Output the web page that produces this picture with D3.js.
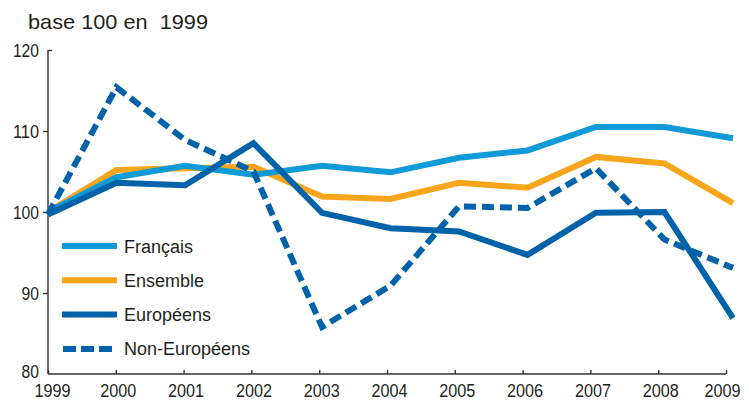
<!DOCTYPE html>
<html><head><meta charset="utf-8">
<script src="https://cdn.jsdelivr.net/npm/d3@7"></script>
<style>
html,body{margin:0;padding:0;background:#fff;}
svg{display:block;font-family:"Liberation Sans",Arial,Helvetica,sans-serif;}
</style></head>
<body>
<script>
const years = [1999,2000,2001,2002,2003,2004,2005,2006,2007,2008,2009];
const francais    = [100,104.3,105.7,104.6,105.7,104.9,106.7,107.6,110.5,110.5,109.1];
const ensemble    = [100,105.2,105.4,105.6,101.9,101.6,103.6,103.0,106.8,106.0,101.1];
const europeens   = [99.7,103.6,103.3,108.5,99.9,98.0,97.6,94.7,99.9,100.0,86.9];
const nonEuropeens= [99.7,115.4,108.9,105.0,85.8,90.9,100.7,100.5,105.4,96.6,93.1];
const yTicks = [80,90,100,110,120];
const title = "base 100 en  1999";
const seriesNames = ["Français","Ensemble","Européens","Non-Européens"];

const W=749,H=402;
const svg=d3.select("body").append("svg").attr("width",W).attr("height",H);
const textColor="#231f20", axisColor="#333";

const y=d3.scaleLinear().domain([80,120]).range([374,50]);
const xAxisScale=d3.scaleLinear().domain([1999,2009]).range([48,726]);
const xData=d3.scaleLinear().domain([1999,2009]).range([48,733]);

// title
svg.append("text").attr("x",28).attr("y",29).attr("font-size",21).attr("fill",textColor)
  .style("white-space","pre").attr("textLength",180).attr("lengthAdjust","spacingAndGlyphs").text(title);

// y axis
const yAxis=d3.axisLeft(y).tickValues(yTicks).tickSize(5).tickPadding(4).tickFormat(d3.format("d"));
const gy=svg.append("g").attr("transform","translate(48,0)").call(yAxis);
gy.select(".domain").attr("d","M0,50V374").attr("stroke",axisColor).attr("stroke-width",1.4);
gy.selectAll(".tick line").attr("stroke",axisColor).attr("stroke-width",1.4)
  .attr("x2",d=>d===120?4:(d===80?0:-5));
gy.selectAll(".tick text").attr("font-size",18).attr("fill",textColor).attr("font-family","Liberation Sans, Arial, sans-serif")
  .attr("textLength",d=>String(d).length*8.7).attr("lengthAdjust","spacingAndGlyphs")
  .attr("dy",d=>d===80?"0.2em":"0.34em");

// x axis
const xAxis=d3.axisBottom(xAxisScale).tickValues(years).tickSize(-4).tickPadding(10).tickFormat(d3.format("d"));
const gx=svg.append("g").attr("transform","translate(0,374)").call(xAxis);
gx.select(".domain").attr("d","M48,0H726").attr("stroke",axisColor).attr("stroke-width",1.4);
gx.selectAll(".tick line").attr("stroke",axisColor).attr("stroke-width",1.4);
gx.selectAll(".tick text").attr("font-size",18).attr("fill",textColor).attr("font-family","Liberation Sans, Arial, sans-serif")
  .attr("textLength",36).attr("lengthAdjust","spacingAndGlyphs")
  .attr("dx",d=>d===1999?4:(d===2009?-4:2));

// lines
const line=(vals)=>d3.line().x((d,i)=>xData(years[i])).y(d=>y(d))(vals);
const series=[
  {name:seriesNames[1],vals:ensemble,color:"#f8a51b",dash:null},
  {name:seriesNames[0],vals:francais,color:"#109bd8",dash:null},
  {name:seriesNames[2],vals:europeens,color:"#0062a8",dash:null},
  {name:seriesNames[3],vals:nonEuropeens,color:"#0062a8",dash:"12,6"}
];
series.forEach(s=>{
  svg.append("path").attr("d",line(s.vals)).attr("fill","none").attr("stroke",s.color)
    .attr("stroke-width",6).attr("stroke-linejoin","miter").attr("stroke-miterlimit",3)
    .attr("stroke-dasharray",s.dash);
});

// legend
const legendOrder=[
  {name:seriesNames[0],color:"#109bd8",dash:null},
  {name:seriesNames[1],color:"#f8a51b",dash:null},
  {name:seriesNames[2],color:"#0062a8",dash:null},
  {name:seriesNames[3],color:"#0062a8",dash:"13,5"}
];
const lg=svg.append("g");
legendOrder.forEach((s,i)=>{
  const yy=246+i*34.3;
  lg.append("line").attr("x1",s.dash?63:62).attr("x2",117).attr("y1",yy).attr("y2",yy)
    .attr("stroke",s.color).attr("stroke-width",6).attr("stroke-dasharray",s.dash);
  lg.append("text").attr("x",124).attr("y",yy+6.5).attr("font-size",18).attr("fill",textColor).text(s.name);
});
</script>
</body></html>
